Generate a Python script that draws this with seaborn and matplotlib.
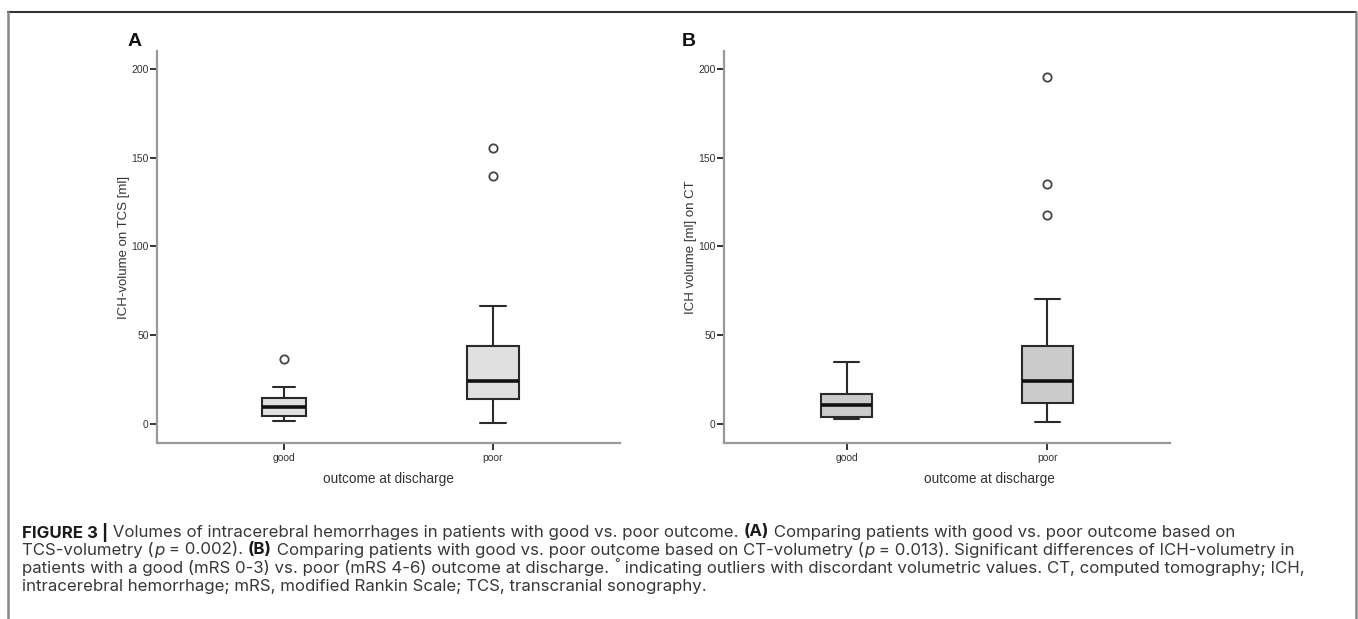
import numpy as np
import pandas as pd
import matplotlib
matplotlib.use("Agg")
import matplotlib.pyplot as plt
import seaborn as sns
from matplotlib.lines import Line2D

# ---------------- data ----------------
categories = ["good", "poor"]

# Panel A: ICH-volume on TCS [ml]
tcs_whisker_low = [1.7, 0.4]
tcs_q1 = [4.1, 13.9]
tcs_median = [9.2, 23.8]
tcs_q3 = [14.4, 44.0]
tcs_whisker_high = [20.8, 66.1]
tcs_outliers = [[36.2], [139.5, 155.5]]

# Panel B: ICH volume [ml] on CT
ct_whisker_low = [2.6, 0.9]
ct_q1 = [3.4, 11.6]
ct_median = [10.2, 24.1]
ct_q3 = [16.4, 43.7]
ct_whisker_high = [34.5, 70.2]
ct_outliers = [[], [117.5, 135.0, 195.8]]

y_ticks = [0, 50, 100, 150, 200]

caption_lines = [
    [("FIGURE 3 |", "bold"), (" Volumes of intracerebral hemorrhages in patients with good vs. poor outcome. ", "normal"),
     ("(A)", "bold"), (" Comparing patients with good vs. poor outcome based on", "normal")],
    [("TCS-volumetry (", "normal"), ("p", "italic"), (" = 0.002). ", "normal"), ("(B)", "bold"),
     (" Comparing patients with good vs. poor outcome based on CT-volumetry (", "normal"), ("p", "italic"),
     (" = 0.013). Significant differences of ICH-volumetry in", "normal")],
    [("patients with a good (mRS 0-3) vs. poor (mRS 4-6) outcome at discharge. ", "normal"), ("\u00b0", "sup"),
     (" indicating outliers with discordant volumetric values. CT, computed tomography; ICH,", "normal")],
    [("intracerebral hemorrhage; mRS, modified Rankin Scale; TCS, transcranial sonography.", "normal")],
]


def box_sample(lo, q1, med, q3, hi, outliers):
    """Observations whose quartiles/whiskers equal the read-off statistics."""
    k = len(outliers) + 1
    vals = [lo] * k + [q1] * k + [med] * k + [q3] + [hi] + list(outliers)
    return vals


def build_frame(lo, q1, med, q3, hi, out):
    rows = []
    for i, c in enumerate(categories):
        for v in box_sample(lo[i], q1[i], med[i], q3[i], hi[i], out[i]):
            rows.append({"outcome": c, "volume": v})
    return pd.DataFrame(rows)


df_tcs = build_frame(tcs_whisker_low, tcs_q1, tcs_median, tcs_q3, tcs_whisker_high, tcs_outliers)
df_ct = build_frame(ct_whisker_low, ct_q1, ct_median, ct_q3, ct_whisker_high, ct_outliers)

# ---------------- style ----------------
sns.set_style("ticks")
AX_FAMILY = ["Liberation Sans", "DejaVu Sans"]
plt.rcParams["font.family"] = AX_FAMILY

W, H = 1358, 619
fig = plt.figure(figsize=(W / 100, H / 100), dpi=100)

axA = fig.add_axes([157 / W, 1 - 443 / H, 463 / W, 392 / H])
axB = fig.add_axes([724 / W, 1 - 443 / H, 446 / W, 392 / H])

LINE = "#2a2a2a"
flier = dict(marker="o", markerfacecolor="none", markeredgecolor="#444444", markersize=6, markeredgewidth=1.3)


def draw(ax, df, fill, widths, ylabel, xlabel_x):
    for c, w in zip(categories, widths):
        sub = df[df["outcome"] == c]
        sns.boxplot(data=sub, x="outcome", y="volume", order=categories, ax=ax,
                    color=fill, linecolor=LINE, linewidth=1.5, width=w, whis=1.5,
                    saturation=1, flierprops=flier,
                    medianprops=dict(color="#111111", linewidth=2.6),
                    boxprops=dict(facecolor=fill, edgecolor=LINE))
    ax.set_xlim(-0.61, 1.61)
    ax.set_ylim(-11, 210.3)
    ax.set_yticks(y_ticks)
    ax.set_yticklabels([str(t) for t in y_ticks], family=AX_FAMILY)
    ax.set_xticks(range(len(categories)))
    ax.set_xticklabels(categories, family=AX_FAMILY)
    for s in ["top", "right"]:
        ax.spines[s].set_visible(False)
    for s in ["left", "bottom"]:
        ax.spines[s].set_color("#999999")
        ax.spines[s].set_linewidth(1.6)
    ax.tick_params(axis="y", length=5, width=1.4, color="#333333", labelsize=7.5,
                   labelcolor="#333333", pad=1)
    ax.tick_params(axis="x", length=5, width=1.4, color="#333333", labelsize=7.5,
                   labelcolor="#333333", pad=2)
    ax.set_ylabel(ylabel, fontsize=9.5, color="#333333", labelpad=1, family=AX_FAMILY)
    ax.set_xlabel("outcome at discharge", fontsize=9.8, color="#333333", family=AX_FAMILY)
    ax.xaxis.set_label_coords(xlabel_x, -0.075)
    ax.set_facecolor("white")


draw(axA, df_tcs, "#e0e0e0", [0.21, 0.25], "ICH-volume on TCS [ml]", 0.5)
draw(axB, df_ct, "#cbcbcb", [0.25, 0.25], "ICH volume [ml] on CT", 0.596)

fig.text(135 / W, 1 - 42 / H, "A", fontsize=14, fontweight="bold", ha="center", va="center",
         color="#111111", family=AX_FAMILY)
fig.text(689 / W, 1 - 42 / H, "B", fontsize=14, fontweight="bold", ha="center", va="center",
         color="#111111", family=AX_FAMILY)

# frame around the figure
fig.add_artist(Line2D([8 / W, 1356 / W], [1 - 12 / H, 1 - 12 / H], transform=fig.transFigure, color="#333333", lw=1.5))
fig.add_artist(Line2D([8 / W, 8 / W], [0, 1 - 12 / H], transform=fig.transFigure, color="#888888", lw=1.8))
fig.add_artist(Line2D([1356 / W, 1356 / W], [0, 1 - 12 / H], transform=fig.transFigure, color="#888888", lw=1.8))

# caption with mixed styles
renderer = fig.canvas.get_renderer()
CAP_FAMILY = ["Inter", "Liberation Sans", "DejaVu Sans"]


def seg_props(kind):
    if kind == "bold":
        return dict(fontweight="bold", color="#1a1a1a")
    if kind == "italic":
        return dict(fontstyle="italic", color="#383838")
    return dict(color="#383838")


def seg_width(txt, props, size):
    t1 = fig.text(0, 0, "|" + txt + "|", fontsize=size, family=CAP_FAMILY, **props)
    t2 = fig.text(0, 0, "||", fontsize=size, family=CAP_FAMILY, **props)
    w = t1.get_window_extent(renderer).width - t2.get_window_extent(renderer).width
    t1.remove()
    t2.remove()
    return w


def line_width(segs, size):
    tot = 0.0
    for txt, kind in segs:
        if kind == "sup":
            tot += seg_width(txt, dict(color="#383838"), size * 0.75)
        else:
            tot += seg_width(txt, seg_props(kind), size)
    return tot


# fit the font size so that the first three caption lines end near x = 1251, 1297, 1314 px
base = 10.0
targets = [1251 - 22, 1297 - 22, 1314 - 22]
measured = [line_width(caption_lines[i], base) for i in range(3)]
CAP_SIZE = base * sum(targets) / sum(measured)

line_y = [532, 550, 568.5, 587]
for segs, yy in zip(caption_lines, line_y):
    x = 22.0
    for txt, kind in segs:
        if kind == "sup":
            props = dict(color="#383838")
            size = CAP_SIZE * 0.75
            fig.text(x / W, 1 - (yy - 4) / H, txt, fontsize=size, va="center", ha="left",
                     family=CAP_FAMILY, **props)
            x += seg_width(txt, props, size)
            continue
        props = seg_props(kind)
        fig.text(x / W, 1 - yy / H, txt, fontsize=CAP_SIZE, va="center", ha="left",
                 family=CAP_FAMILY, **props)
        x += seg_width(txt, props, CAP_SIZE)

fig.savefig("out.png", dpi=100, facecolor="white")
